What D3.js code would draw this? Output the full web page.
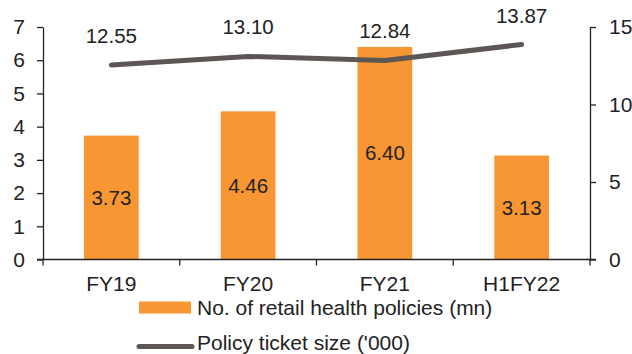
<!DOCTYPE html>
<html>
<head>
<meta charset="utf-8">
<script src="https://cdn.jsdelivr.net/npm/d3@7"></script>
<style>
  html, body { margin: 0; padding: 0; background: #fff; }
  svg { display: block; font-family: "Liberation Sans", Arial, sans-serif; }
</style>
</head>
<body>
<svg id="chart" width="632" height="354"></svg>
<script>
// Retail health policies and average ticket size
const categories = ["FY19", "FY20", "FY21", "H1FY22"];
const policies = [3.73, 4.46, 6.40, 3.13];          // mn policies
const ticketSize = [12.55, 13.10, 12.84, 13.87];     // '000
const leftTicks = [0, 1, 2, 3, 4, 5, 6, 7];
const rightTicks = [0, 5, 10, 15];
const barLegend = "No. of retail health policies (mn)";
const lineLegend = "Policy ticket size ('000)";

const svg = d3.select("#chart");
const plotLeft = 43, plotRight = 590, plotTop = 27, plotBottom = 259.5;

const x = d3.scaleBand().domain(categories).range([plotLeft, plotRight]).paddingInner(0.6).paddingOuter(0.3);
const xOuter = d3.scaleBand().domain(categories).range([plotLeft, plotRight]);
const yL = d3.scaleLinear().domain([0, 7]).range([plotBottom, plotTop]);
const yR = d3.scaleLinear().domain([0, 15]).range([plotBottom, plotTop]);

const orange = "#f79633";
const grey = "#5c5654";
const textColor = "#222";
const labelSize = 20.5, axisSize = 21, legendSize = 21;

// bars
svg.append("g").selectAll("rect").data(categories).join("rect")
  .attr("x", d => x(d))
  .attr("width", x.bandwidth())
  .attr("y", (d, i) => yL(policies[i]))
  .attr("height", (d, i) => yL(0) - yL(policies[i]))
  .attr("fill", orange);

// bar value labels, centred in the bar
svg.append("g").selectAll("text").data(categories).join("text")
  .attr("x", d => x(d) + x.bandwidth() / 2)
  .attr("y", (d, i) => (yL(policies[i]) + yL(0)) / 2)
  .attr("dy", "0.35em")
  .attr("text-anchor", "middle")
  .attr("font-size", labelSize)
  .attr("fill", textColor)
  .text((d, i) => policies[i].toFixed(2));

// axes
function styleAxis(g) {
  g.selectAll("path, line").attr("stroke", "#222").attr("stroke-width", 1.3);
  g.selectAll("text").attr("font-size", axisSize).attr("fill", textColor)
    .attr("font-family", "'Liberation Sans', Arial, sans-serif");
}

svg.append("g")
  .attr("transform", `translate(${plotLeft},0)`)
  .call(d3.axisLeft(yL).tickValues(leftTicks).tickFormat(d3.format("d"))
    .tickSize(6).tickSizeOuter(0).tickPadding(12))
  .call(styleAxis);

svg.append("g")
  .attr("transform", `translate(${plotRight},0)`)
  .call(d3.axisRight(yR).tickValues(rightTicks).tickFormat(d3.format("d"))
    .tickSize(6).tickSizeOuter(0).tickPadding(13))
  .call(styleAxis);

// x axis with boundary ticks between categories
const xAxisG = svg.append("g").attr("transform", `translate(0,${plotBottom})`);
xAxisG.append("line")
  .attr("x1", plotLeft - 6).attr("x2", plotRight + 6)
  .attr("stroke", "#222").attr("stroke-width", 1.3);
const boundaries = categories.map(c => xOuter(c)).concat([plotRight]);
xAxisG.selectAll("line.tick").data(boundaries).join("line")
  .attr("class", "tick")
  .attr("x1", d => d).attr("x2", d => d)
  .attr("y1", 0).attr("y2", 6)
  .attr("stroke", "#222").attr("stroke-width", 1.3);
xAxisG.selectAll("text").data(categories).join("text")
  .attr("x", d => xOuter(d) + xOuter.bandwidth() / 2)
  .attr("y", 31.5)
  .attr("text-anchor", "middle")
  .attr("font-size", axisSize)
  .attr("fill", textColor)
  .text(d => d);

// ticket size line
const line = d3.line()
  .x(d => x(d.c) + x.bandwidth() / 2)
  .y(d => yR(d.v));
const pts = categories.map((c, i) => ({ c, v: ticketSize[i] }));
svg.append("path")
  .datum(pts)
  .attr("d", line)
  .attr("fill", "none")
  .attr("stroke", grey)
  .attr("stroke-width", 5)
  .attr("stroke-linecap", "round")
  .attr("stroke-linejoin", "round");

svg.append("g").selectAll("text").data(pts).join("text")
  .attr("x", d => x(d.c) + x.bandwidth() / 2)
  .attr("y", d => yR(d.v) - 22)
  .attr("text-anchor", "middle")
  .attr("font-size", labelSize)
  .attr("fill", textColor)
  .text(d => d.v.toFixed(2));

// legend
const lg = svg.append("g");
lg.append("rect").attr("x", 139).attr("y", 301.5).attr("width", 52).attr("height", 12).attr("fill", orange);
lg.append("text").attr("x", 197).attr("y", 314.5).attr("font-size", legendSize).attr("fill", textColor).text(barLegend);
lg.append("line").attr("x1", 139).attr("x2", 192).attr("y1", 346.5).attr("y2", 346.5)
  .attr("stroke", grey).attr("stroke-width", 5).attr("stroke-linecap", "round");
lg.append("text").attr("x", 197).attr("y", 349.5).attr("font-size", legendSize).attr("fill", textColor).text(lineLegend);
</script>
</body>
</html>
